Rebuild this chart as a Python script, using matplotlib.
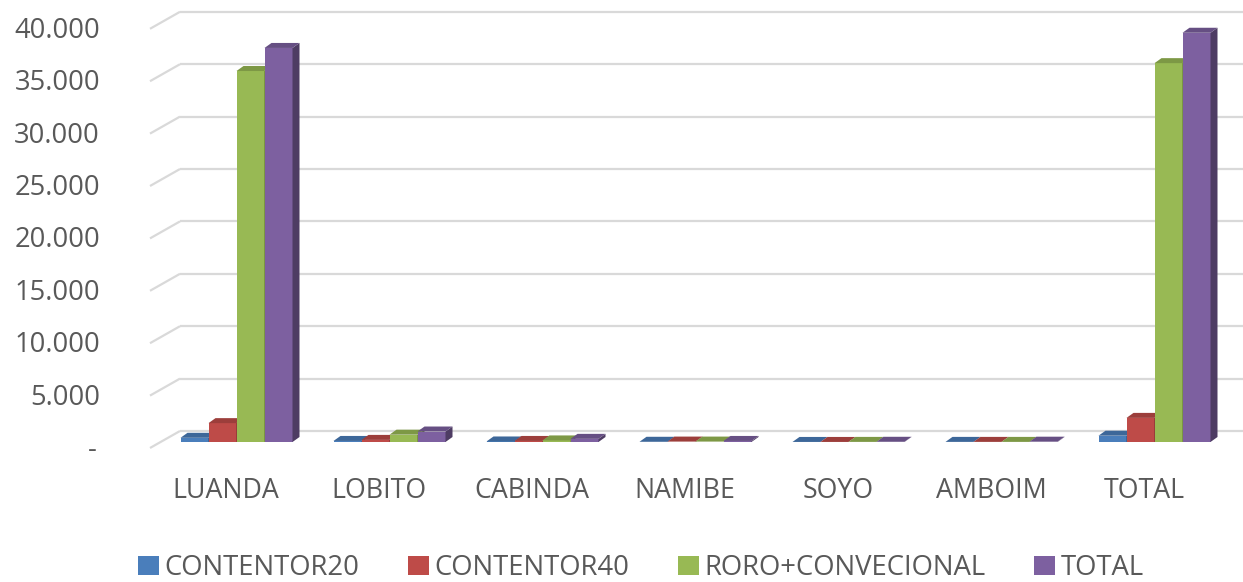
import matplotlib
matplotlib.use("Agg")
import matplotlib.pyplot as plt
from matplotlib.patches import Polygon, Patch
import numpy as np

# ---- data ----
categories = ["LUANDA", "LOBITO", "CABINDA", "NAMIBE", "SOYO", "AMBOIM", "TOTAL"]
series_names = ["CONTENTOR20", "CONTENTOR40", "RORO+CONVECIONAL", "TOTAL"]
contentor20 = [400, 100, 50, 20, 5, 10, 600]
contentor40 = [1800, 200, 100, 40, 5, 10, 2300]
roro_convencional = [35400, 700, 150, 40, 10, 10, 36150]
total = [37600, 1000, 300, 100, 20, 30, 39050]
y_ticks = [0, 5000, 10000, 15000, 20000, 25000, 30000, 35000, 40000]

series = [contentor20, contentor40, roro_convencional, total]
colors = ["#4A7EBB", "#BE4B48", "#98B954", "#7D60A0"]

plt.rcParams['font.family'] = ['Open Sans', 'DejaVu Sans']
TXT = "#595959"
FS = 19.3

W, H = 1243, 582
fig = plt.figure(figsize=(W / 100, H / 100), dpi=100)
ax = fig.add_axes([0, 0, 1, 1])
ax.axis("off")

# pixel geometry of the pseudo-3D frame
PX_CAT = 153.0       # pixels per category
CAT0 = 226.0         # pixel x of category 0 on the front plane
Y0 = 448.0           # pixel y (from top) of value 0 on the front plane
PX_K = 10.48         # pixels per 1000 units

ax.set_xlim((0 - CAT0) / PX_CAT, (W - CAT0) / PX_CAT)
ax.set_ylim((Y0 - H) / PX_K * 1000, Y0 / PX_K * 1000)

def dx(px):
    return px / PX_CAT

def dy(px):
    return px / PX_K * 1000

# wall depth (px): right 30, up 17
WDX, WDY = dx(30), dy(17)
# bar placement depth and bar depth
BDX0, BDY0 = dx(10.5), dy(6)
BDX, BDY = dx(7), dy(5)

grid_c = "#D9D9D9"
x_left_front = dx(150 - CAT0)
x_right = dx(W - CAT0)
for v in y_ticks:
    ax.plot([x_left_front, x_left_front + WDX], [v, v + WDY], color=grid_c, lw=1.6,
            solid_capstyle="butt", zorder=1)
    ax.plot([x_left_front + WDX, x_right], [v + WDY, v + WDY], color=grid_c, lw=1.6,
            solid_capstyle="butt", zorder=1)
    lab = "-" if v == 0 else f"{v:,}".replace(",", ".")
    ax.text(dx(100 - CAT0) if v else dx(97 - CAT0), v - dy(2), lab, ha="right", va="center",
            fontsize=FS + 0.4, color=TXT)

def shade(c, f):
    r, g, b = matplotlib.colors.to_rgb(c)
    return (r * f, g * f, b * f)

bw = dx(28)
n = len(series)
xs = np.arange(len(categories))
z = 2
for ci, c in enumerate(xs):
    for si in range(n):
        val = series[si][ci]
        x0 = c + (si - n / 2) * bw + BDX0
        y0 = BDY0
        col = colors[si]
        ax.bar(x0, val, width=bw, bottom=y0, align="edge", color=col,
               edgecolor="none", zorder=z)
        top = Polygon([(x0, y0 + val), (x0 + bw, y0 + val),
                       (x0 + bw + BDX, y0 + val + BDY), (x0 + BDX, y0 + val + BDY)],
                      closed=True, facecolor=shade(col, 0.82), edgecolor="none", zorder=z)
        side = Polygon([(x0 + bw, y0), (x0 + bw + BDX, y0 + BDY),
                        (x0 + bw + BDX, y0 + val + BDY), (x0 + bw, y0 + val)],
                       closed=True, facecolor=shade(col, 0.62), edgecolor="none", zorder=z)
        ax.add_patch(side)
        ax.add_patch(top)
        z += 1

for ci, c in enumerate(xs):
    ax.text(c, dy(Y0 - 491), categories[ci], ha="center", va="center",
            fontsize=FS, color=TXT)

handles = [Patch(facecolor=colors[i], edgecolor="none", label=series_names[i]) for i in range(n)]
fig.legend(handles=handles, loc="center", bbox_to_anchor=(641 / W, 1 - 568 / H), ncol=4,
           frameon=False, fontsize=19.8, labelcolor=TXT, handlelength=0.78,
           handleheight=0.72, handletextpad=0.2, columnspacing=1.75, borderpad=0,
           borderaxespad=0)

fig.savefig("out.png", dpi=100, facecolor="white")
